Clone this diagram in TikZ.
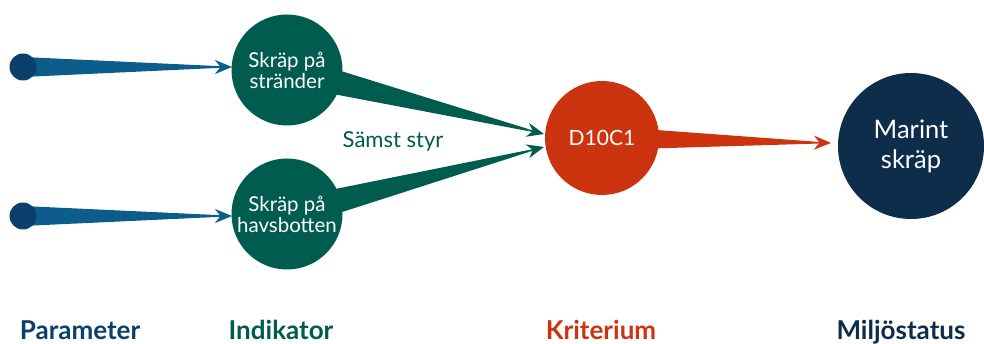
\documentclass[tikz,border=0pt]{standalone}
\usepackage{fontspec}
\setmainfont{Lato}
\usetikzlibrary{arrows.meta, calc, backgrounds}

\definecolor{paramblue}{HTML}{0C5C8C}
\definecolor{dotblue}{HTML}{0B3F6C}
\definecolor{indgreen}{HTML}{005C4E}
\definecolor{kritred}{HTML}{CC3410}
\definecolor{statusnavy}{HTML}{0D2D4B}

% tapered connector: from, to, half width, colour
\newcommand{\taper}[4]{%
    \coordinate (neck) at ($(#2)!16pt!(#1)$);
    \fill[#4] ($(#1)!#3!90:(#2)$) -- ($(neck)!1pt!90:(#2)$)
        -- ($(neck)!1pt!-90:(#2)$) -- ($(#1)!#3!-90:(#2)$) -- cycle;
    \draw[#4, line width=1.8pt, -{Stealth[length=17pt,width=14pt]}] (neck) -- (#2);
}

\tikzset{
    blob/.style={circle, inner sep=0pt, align=center, text=white},
    colhead/.style={anchor=base, inner sep=0pt, font=\fontsize{26}{28}\selectfont\bfseries},
}

\begin{document}
\begin{tikzpicture}[x=1pt,y=-1pt]
    \useasboundingbox (0,0) rectangle (984,344);
    % nodes
    \node[circle, fill=dotblue, minimum size=27pt, inner sep=0pt] (par1) at (23,67) {};
    \node[circle, fill=dotblue, minimum size=27pt, inner sep=0pt] (par2) at (23,216) {};
    \node[blob, fill=indgreen, minimum size=111pt, font=\fontsize{20.5}{21}\selectfont] (ind1) at (287,70) {Skräp på\\stränder};
    \node[blob, fill=indgreen, minimum size=111pt, font=\fontsize{20.5}{21}\selectfont] (ind2) at (287,214) {Skräp på\\havsbotten};
    \node[blob, fill=kritred, minimum size=114pt, font=\fontsize{21}{23}\selectfont] (krit) at (602,138) {D10C1};
    \node[blob, fill=statusnavy, minimum size=146pt, font=\fontsize{25.5}{30}\selectfont] (stat) at (911,146) {Marint\\skräp};
    \node[text=indgreen, font=\fontsize{22}{24}\selectfont] (samst) at (393,141) {Sämst styr};
    % arrow tips
    \coordinate (tip1) at (232,67);
    \coordinate (tip2) at (232,216);
    \coordinate (tip3) at (544,134);
    \coordinate (tip4) at (544,147);
    \coordinate (tip5) at (831,143);
    % connectors, behind the circles
    \begin{scope}[on background layer]
        \taper{par1}{tip1}{10pt}{paramblue}
        \taper{par2}{tip2}{10pt}{paramblue}
        \taper{ind1}{tip3}{15pt}{indgreen}
        \taper{ind2}{tip4}{15pt}{indgreen}
        \taper{krit}{tip5}{12pt}{kritred}
    \end{scope}
    % column heads
    \node[colhead, text=dotblue] (hpar) at (80,339) {Parameter};
    \node[colhead, text=indgreen] (hind) at (281,339) {Indikator};
    \node[colhead, text=kritred] (hkrit) at (601,339) {Kriterium};
    \node[colhead, text=statusnavy] (hstat) at (901,339) {Miljöstatus};
\end{tikzpicture}
\end{document}
